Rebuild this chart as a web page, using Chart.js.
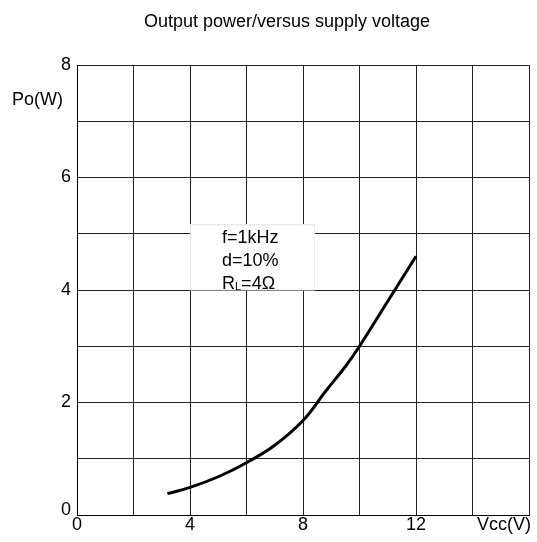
<!DOCTYPE html>
<html>
<head>
<meta charset="utf-8">
<script src="https://cdn.jsdelivr.net/npm/chart.js@4"></script>
<style>
  body { margin: 0; background: #fff; }
</style>
</head>
<body>
<canvas id="po-canvas" width="537" height="542"></canvas>
<script>
const voltages = [3.2, 4, 5, 6, 7, 8, 8.8, 9.5, 10, 11, 12];
const powers = [0.38, 0.49, 0.68, 0.93, 1.24, 1.68, 2.2, 2.64, 3.0, 3.8, 4.6];

const xLabels = ['0', '4', '8', '12', 'Vcc(V)'];
const xLabelValues = [0, 4, 8, 12, 16];
const yLabels = ['0', '2', '4', '6', '8'];
const yLabelValues = [0, 2, 4, 6, 8];

const titleText = 'Output power/versus supply voltage';
const yTitle = 'Po(W)';
const noteLines = ['f=1kHz', 'd=10%'];

const FONT = '"Liberation Sans", Arial, sans-serif';

// Plugin para textos y el recuadro de condiciones
const textPlugin = {
    id: 'textos',
    beforeDatasetsDraw(chart) {
        const ctx = chart.ctx;
        const xs = chart.scales.x, ys = chart.scales.y;
        const x0 = xs.getPixelForValue(4.0), x1 = xs.getPixelForValue(8.42);
        const y0 = ys.getPixelForValue(5.17), y1 = ys.getPixelForValue(4.0);
        ctx.save();
        ctx.fillStyle = '#fff';
        ctx.fillRect(x0, y0, x1 - x0, y1 - y0);
        ctx.strokeStyle = '#e4e4e4';
        ctx.lineWidth = 1;
        ctx.strokeRect(x0 + 0.5, y0 + 0.5, x1 - x0 - 1, y1 - y0 - 0.5);
        ctx.fillStyle = '#000';
        ctx.font = '18px ' + FONT;
        ctx.textAlign = 'left';
        ctx.textBaseline = 'alphabetic';
        ctx.fillText(noteLines[0], 222, 243);
        ctx.fillText(noteLines[1], 222, 266);
        ctx.fillText('R', 222, 289);
        const rw = ctx.measureText('R').width;
        ctx.font = '11px ' + FONT;
        ctx.fillText('L', 222 + rw, 290);
        const lw = ctx.measureText('L').width;
        ctx.font = '18px ' + FONT;
        ctx.fillText('=4Ω', 222 + rw + lw, 289);
        ctx.restore();
    },
    afterDraw(chart) {
        const ctx = chart.ctx;
        const xs = chart.scales.x, ys = chart.scales.y;
        ctx.save();
        ctx.fillStyle = '#000';
        ctx.font = '18px ' + FONT;
        ctx.textAlign = 'center';
        ctx.textBaseline = 'alphabetic';
        ctx.fillText(titleText, 287, 27);

        // etiquetas del eje Y
        ctx.textAlign = 'right';
        ctx.textBaseline = 'middle';
        yLabels.forEach((t, i) => {
            const v = yLabelValues[i];
            let y = ys.getPixelForValue(v);
            if (v === 0) y -= 5;
            ctx.fillText(t, 71, y);
        });
        ctx.textAlign = 'left';
        ctx.fillText(yTitle, 12, 100);

        // etiquetas del eje X
        ctx.textBaseline = 'middle';
        xLabels.forEach((t, i) => {
            const x = xs.getPixelForValue(xLabelValues[i]);
            if (i === xLabels.length - 1) {
                ctx.textAlign = 'right';
                ctx.fillText(t, x + 2, 525);
            } else {
                ctx.textAlign = 'center';
                ctx.fillText(t, x, 525);
            }
        });
        ctx.restore();
    }
};

const ctx = document.getElementById('po-canvas').getContext('2d');

new Chart(ctx, {
    type: 'line',
    data: {
        datasets: [{
            data: voltages.map((v, i) => ({ x: v, y: powers[i] })),
            borderColor: '#000',
            borderWidth: 3,
            pointRadius: 0,
            fill: false,
            tension: 0.4
        }]
    },
    options: {
        responsive: false,
        animation: false,
        layout: { padding: { top: 65, right: 8, left: 0, bottom: 0 } },
        plugins: {
            legend: { display: false },
            tooltip: { enabled: false },
            title: { display: false }
        },
        scales: {
            x: {
                type: 'linear',
                min: 0,
                max: 16,
                ticks: { stepSize: 2, display: false },
                grid: { color: '#222', lineWidth: 1, drawTicks: false },
                border: { color: '#000', width: 1 },
                afterFit(scale) { scale.height = 27; }
            },
            y: {
                min: 0,
                max: 8,
                ticks: { stepSize: 1, display: false },
                grid: { color: '#222', lineWidth: 1, drawTicks: false },
                border: { color: '#000', width: 1 },
                afterFit(scale) { scale.width = 77; }
            }
        }
    },
    plugins: [textPlugin]
});
</script>
</body>
</html>
